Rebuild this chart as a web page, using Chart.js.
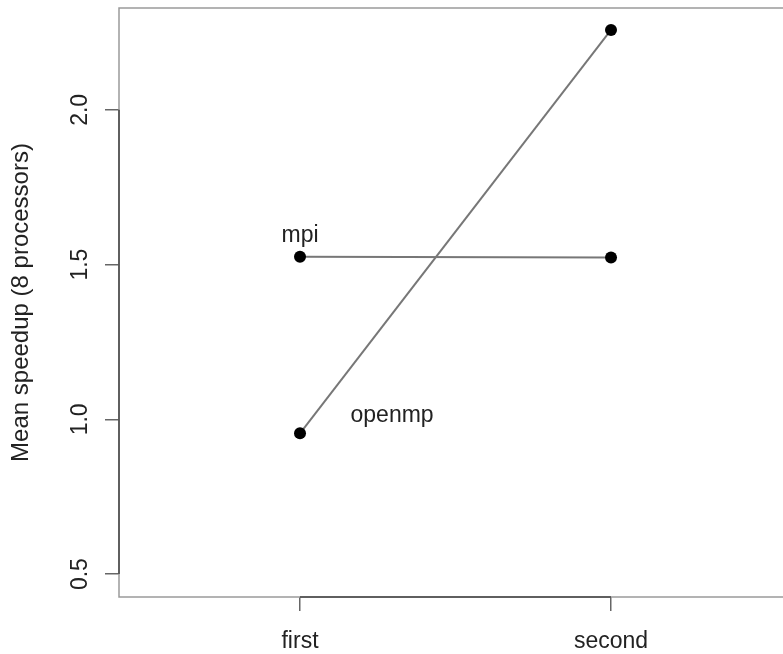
<!DOCTYPE html>
<html>
<head>
<meta charset="utf-8">
<script src="https://cdn.jsdelivr.net/npm/chart.js@4"></script>
<style>
  html, body { margin: 0; padding: 0; background: #fff; overflow: hidden; }
</style>
</head>
<body>
<canvas id="myChart" width="783" height="654"></canvas>
<script>
// categories on the x axis
var CATEGORIES = ['first', 'second'];
// mean speedup values, one per category
var MPI = [1.525, 1.523];
var OPENMP = [0.955, 2.258];
var SERIES_NAMES = ['mpi', 'openmp'];
// where the series names are written (category position, speedup)
var LABEL_X = [1.0, 1.296];
var LABEL_Y = [1.595, 1.012];
var Y_TICKS = [0.5, 1.0, 1.5, 2.0];

var FONT = '"Liberation Sans", Arial, sans-serif';

function toPoints(values) {
  return values.map(function(v, i) { return { x: i + 1, y: v }; });
}

// draws the R style box, rotated y tick labels and the series names
var rStyle = {
  id: 'rStyle',
  afterDraw: function(chart) {
    var ctx = chart.ctx;
    var a = chart.chartArea;
    var xs = chart.scales.x;
    var ys = chart.scales.y;
    ctx.save();

    // box
    ctx.strokeStyle = '#9a9a9a';
    ctx.lineWidth = 1.5;
    ctx.beginPath();
    ctx.moveTo(chart.width, a.top);
    ctx.lineTo(a.left, a.top);
    ctx.lineTo(a.left, a.bottom);
    ctx.lineTo(chart.width, a.bottom);
    ctx.stroke();

    // axis lines between first and last tick
    ctx.strokeStyle = '#444';
    ctx.lineWidth = 1.5;
    ctx.beginPath();
    ctx.moveTo(a.left, ys.getPixelForValue(Y_TICKS[0]));
    ctx.lineTo(a.left, ys.getPixelForValue(Y_TICKS[Y_TICKS.length - 1]));
    ctx.moveTo(xs.getPixelForValue(1), a.bottom);
    ctx.lineTo(xs.getPixelForValue(CATEGORIES.length), a.bottom);
    ctx.stroke();

    // rotated y tick labels
    ctx.fillStyle = '#222';
    ctx.font = '23px ' + FONT;
    ctx.textAlign = 'center';
    ctx.textBaseline = 'alphabetic';
    ys.ticks.forEach(function(t) {
      var py = ys.getPixelForValue(t.value);
      ctx.save();
      ctx.translate(87, py);
      ctx.rotate(-Math.PI / 2);
      ctx.fillText(t.value.toFixed(1), 0, 0);
      ctx.restore();
    });

    // series names
    ctx.textBaseline = 'middle';
    SERIES_NAMES.forEach(function(name, i) {
      ctx.fillText(name, xs.getPixelForValue(LABEL_X[i]), ys.getPixelForValue(LABEL_Y[i]));
    });
    ctx.restore();
  }
};

var ctx = document.getElementById('myChart').getContext('2d');
var chart = new Chart(ctx, {
  type: 'line',
  data: {
    datasets: [{
      label: SERIES_NAMES[0],
      data: toPoints(MPI),
      borderColor: '#777',
      borderWidth: 2,
      pointBackgroundColor: '#000',
      pointBorderColor: '#000',
      pointRadius: 6,
      pointBorderWidth: 0
    }, {
      label: SERIES_NAMES[1],
      data: toPoints(OPENMP),
      borderColor: '#777',
      borderWidth: 2,
      pointBackgroundColor: '#000',
      pointBorderColor: '#000',
      pointRadius: 6,
      pointBorderWidth: 0
    }]
  },
  options: {
    responsive: false,
    animation: false,
    devicePixelRatio: 1,
    layout: { autoPadding: false, padding: { top: 8, right: 0, left: 0, bottom: 0 } },
    plugins: {
      legend: { display: false },
      tooltip: { enabled: false }
    },
    scales: {
      x: {
        type: 'linear',
        min: 0.418,
        max: 2.553,
        afterBuildTicks: function(scale) {
          scale.ticks = CATEGORIES.map(function(c, i) { return { value: i + 1 }; });
        },
        afterFit: function(scale) {
          scale.height = 57;
          scale.paddingLeft = 0;
          scale.paddingRight = 0;
        },
        ticks: {
          color: '#222',
          font: { family: FONT, size: 23 },
          padding: 17,
          maxRotation: 0,
          callback: function(v) { return CATEGORIES[v - 1]; }
        },
        grid: { drawOnChartArea: false, drawTicks: true, tickLength: 14, color: '#666', lineWidth: 1.5 },
        border: { display: false }
      },
      y: {
        type: 'linear',
        min: 0.426,
        max: 2.329,
        afterBuildTicks: function(scale) {
          scale.ticks = Y_TICKS.map(function(v) { return { value: v }; });
        },
        afterFit: function(scale) {
          scale.width = 119;
          scale.paddingTop = 0;
          scale.paddingBottom = 0;
        },
        ticks: {
          color: 'rgba(0,0,0,0)',
          font: { family: FONT, size: 1 }
        },
        grid: { drawOnChartArea: false, drawTicks: true, tickLength: 14, color: '#666', lineWidth: 1.5 },
        border: { display: false },
        title: {
          display: true,
          text: 'Mean speedup (8 processors)',
          color: '#222',
          font: { family: FONT, size: 24 },
          padding: { top: 7, bottom: 4 }
        }
      }
    }
  },
  plugins: [rStyle]
});
</script>
</body>
</html>
